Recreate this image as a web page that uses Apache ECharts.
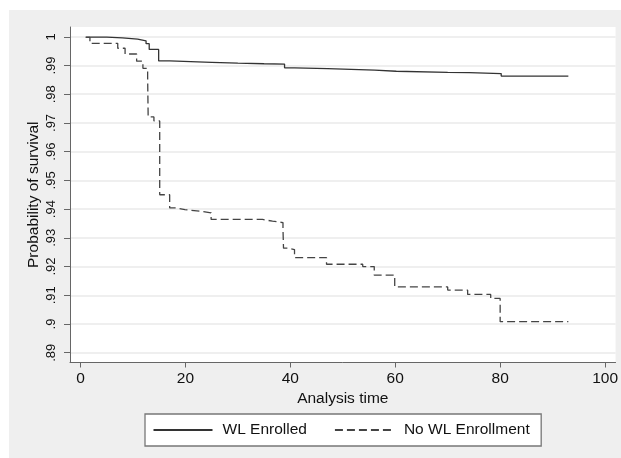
<!DOCTYPE html>
<html>
<head>
<meta charset="utf-8">
<script src="https://cdn.jsdelivr.net/npm/echarts@6/dist/echarts.min.js"></script>
<style>
html,body{margin:0;padding:0;background:#fff;}
#wrap{position:absolute;left:9px;top:10px;width:612px;height:448px;background:#efefef;}
#chart{position:absolute;left:0;top:0;width:621px;height:458px;}
</style>
</head>
<body>
<div id="wrap"></div>
<div id="chart"></div>
<script>
// Tick labels
const xTicks = [0, 20, 40, 60, 80, 100];
const yTicks = [0.89, 0.90, 0.91, 0.92, 0.93, 0.94, 0.95, 0.96, 0.97, 0.98, 0.99, 1.00];
const seriesNames = ['WL Enrolled', 'No WL Enrollment'];

// WL Enrolled (solid)
const enrolledTime = [1, 5, 8, 10.9, 12.5, 13.1, 14.9, 17, 25, 30, 35, 38.9, 40.8, 47.1, 56.1, 60.2, 70, 74.1, 80.2, 93];
const enrolledSurv = [0.9999, 0.9996, 0.9992, 0.9986, 0.9976, 0.9956, 0.9916, 0.9911, 0.9908, 0.9906, 0.9905, 0.9892, 0.9889, 0.9884, 0.9880, 0.9876, 0.9875, 0.9872, 0.9863, 0.9863];

// No WL Enrollment (dashed)
const noWlTime = [1, 1.8, 7.1, 8.5, 10.7, 11.9, 12.8, 12.9, 14, 15.1, 17, 18.2, 19.9, 22.7, 24.9, 34.7, 36.6, 38.6, 38.7, 39.6, 40.8, 46.9, 53.8, 56, 59.9, 70, 73.8, 78.2, 80, 93];
const noWlSurv = [0.9998, 0.9977, 0.9960, 0.9940, 0.9915, 0.9890, 0.9861, 0.9721, 0.9707, 0.9450, 0.9404, 0.9398, 0.9393, 0.9387, 0.9364, 0.9358, 0.9353, 0.9330, 0.9264, 0.9259, 0.9231, 0.9208, 0.9200, 0.9170, 0.9129, 0.9118, 0.9103, 0.9089, 0.9008, 0.9008];

const pairs = (xs, ys) => xs.map((x, i) => [x, ys[i]]);
const fmtY = v => { let s = (Math.round(v * 100) / 100).toString(); if (s.startsWith('0')) s = s.slice(1); return s; };
const FONT = '"Liberation Sans", Arial, Helvetica, sans-serif';
const TXT = '#111';

const chart = echarts.init(document.getElementById('chart'), null, {renderer: 'canvas'});
chart.setOption({
  animation: false,
  backgroundColor: 'transparent',
  grid: {left: 70, top: 27, right: 4, bottom: 95.5, show: true, backgroundColor: '#fff', borderWidth: 0},
  xAxis: {
    type: 'value', min: -2, max: 102,
    name: 'Analysis time', nameLocation: 'middle', nameGap: 28, nameMoveOverlap: false,
    nameTextStyle: {fontSize: 15.5, color: TXT, fontFamily: FONT},
    axisLine: {show: true, onZero: false, lineStyle: {color: '#666', width: 1}},
    axisTick: {show: true, length: 5, customValues: xTicks, lineStyle: {color: '#666'}},
    axisLabel: {customValues: xTicks, margin: 8, fontSize: 15.5, color: TXT, fontFamily: FONT},
    splitLine: {show: false}
  },
  yAxis: {
    type: 'value', min: 0.8866, max: 1.0034,
    name: 'Probability of survival', nameLocation: 'middle', nameGap: 28, nameMoveOverlap: false,
    nameTextStyle: {fontSize: 15.5, color: TXT, fontFamily: FONT},
    axisLine: {show: true, onZero: false, lineStyle: {color: '#666', width: 1}},
    axisTick: {show: true, length: 6, customValues: yTicks, lineStyle: {color: '#666'}},
    axisLabel: {customValues: yTicks, rotate: 90, margin: 12, fontSize: 13, color: TXT, fontFamily: FONT, formatter: fmtY},
    splitLine: {show: true, lineStyle: {color: '#eaeaea', width: 1.5}}
  },
  legend: {
    left: 145, top: 414,
    padding: [8, 11.5, 8, 7.5],
    itemWidth: 59, itemHeight: 14, itemGap: 27,
    backgroundColor: '#fff', borderColor: '#777', borderWidth: 1.3, borderRadius: 0,
    itemStyle: {opacity: 0},
    textStyle: {fontSize: 15.5, color: TXT, fontFamily: FONT, padding: [0, 0, 0, 5]},
    data: seriesNames
  },
  series: [
    {
      name: seriesNames[0], type: 'line', step: 'end', symbol: 'none',
      data: pairs(enrolledTime, enrolledSurv),
      lineStyle: {color: '#333', width: 1.3, type: 'solid'},
      itemStyle: {color: '#333'}
    },
    {
      name: seriesNames[1], type: 'line', step: 'end', symbol: 'none',
      data: pairs(noWlTime, noWlSurv),
      lineStyle: {color: '#444', width: 1.3, type: [8, 4]},
      itemStyle: {color: '#444'}
    }
  ]
});
</script>
</body>
</html>
